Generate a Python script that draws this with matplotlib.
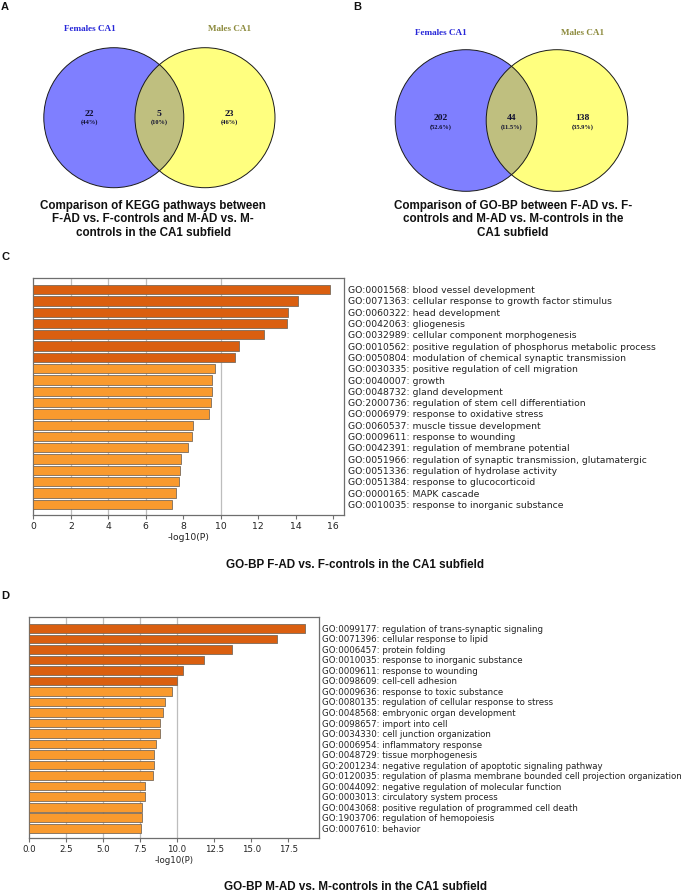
import matplotlib
matplotlib.use("Agg")
import matplotlib.pyplot as plt
from matplotlib.patches import Circle
import numpy as np

# ---------------- data ----------------
kegg_counts = [22, 5, 23]
kegg_pcts = ["(44%)", "(10%)", "(46%)"]
gobp_counts = [202, 44, 138]
gobp_pcts = ["(52.6%)", "(11.5%)", "(35.9%)"]
set_names = ["Females CA1", "Males CA1"]

c_terms = [
    "GO:0001568: blood vessel development",
    "GO:0071363: cellular response to growth factor stimulus",
    "GO:0060322: head development",
    "GO:0042063: gliogenesis",
    "GO:0032989: cellular component morphogenesis",
    "GO:0010562: positive regulation of phosphorus metabolic process",
    "GO:0050804: modulation of chemical synaptic transmission",
    "GO:0030335: positive regulation of cell migration",
    "GO:0040007: growth",
    "GO:0048732: gland development",
    "GO:2000736: regulation of stem cell differentiation",
    "GO:0006979: response to oxidative stress",
    "GO:0060537: muscle tissue development",
    "GO:0009611: response to wounding",
    "GO:0042391: regulation of membrane potential",
    "GO:0051966: regulation of synaptic transmission, glutamatergic",
    "GO:0051336: regulation of hydrolase activity",
    "GO:0051384: response to glucocorticoid",
    "GO:0000165: MAPK cascade",
    "GO:0010035: response to inorganic substance",
]
c_values = [15.82, 14.13, 13.6, 13.56, 12.3, 11.0, 10.76, 9.71, 9.56, 9.55,
            9.49, 9.40, 8.50, 8.48, 8.27, 7.91, 7.84, 7.79, 7.63, 7.40]
c_n_dark = 7

d_terms = [
    "GO:0099177: regulation of trans-synaptic signaling",
    "GO:0071396: cellular response to lipid",
    "GO:0006457: protein folding",
    "GO:0010035: response to inorganic substance",
    "GO:0009611: response to wounding",
    "GO:0098609: cell-cell adhesion",
    "GO:0009636: response to toxic substance",
    "GO:0080135: regulation of cellular response to stress",
    "GO:0048568: embryonic organ development",
    "GO:0098657: import into cell",
    "GO:0034330: cell junction organization",
    "GO:0006954: inflammatory response",
    "GO:0048729: tissue morphogenesis",
    "GO:2001234: negative regulation of apoptotic signaling pathway",
    "GO:0120035: regulation of plasma membrane bounded cell projection organization",
    "GO:0044092: negative regulation of molecular function",
    "GO:0003013: circulatory system process",
    "GO:0043068: positive regulation of programmed cell death",
    "GO:1903706: regulation of hemopoiesis",
    "GO:0007610: behavior",
]
d_values = [18.65, 16.72, 13.69, 11.80, 10.38, 10.02, 9.69, 9.17, 9.03, 8.83,
            8.83, 8.61, 8.47, 8.43, 8.38, 7.87, 7.87, 7.66, 7.64, 7.55]
d_n_dark = 6

c_ticks = [0, 2, 4, 6, 8, 10, 12, 14, 16]
c_ticklabels = ["0", "2", "4", "6", "8", "10", "12", "14", "16"]
c_grid = [2, 4, 6, 10]
d_ticks = [0, 2.5, 5, 7.5, 10, 12.5, 15, 17.5]
d_ticklabels = ["0.0", "2.5", "5.0", "7.5", "10.0", "12.5", "15.0", "17.5"]
d_grid = [2.5, 5, 7.5, 10]

caption_a = ["Comparison of KEGG pathways between",
             "F-AD vs. F-controls and M-AD vs. M-",
             "controls in the CA1 subfield"]
caption_b = ["Comparison of GO-BP between F-AD vs. F-",
             "controls and M-AD vs. M-controls in the",
             "CA1 subfield"]
title_c = "GO-BP F-AD vs. F-controls in the CA1 subfield"
title_d = "GO-BP M-AD vs. M-controls in the CA1 subfield"

# ---------------- figure ----------------
W, H = 686, 896
fig = plt.figure(figsize=(W / 100, H / 100), dpi=100)

DARK = "#DA5F10"
LIGHT = "#F99A2E"
SPINE = "#6E6E6E"

# full-figure overlay in pixel coords for venns & texts
ov = fig.add_axes([0, 0, 1, 1])
ov.set_xlim(0, W)
ov.set_ylim(H, 0)
ov.axis("off")

serif = ["Liberation Serif", "DejaVu Serif"]
sans = ["Liberation Sans", "DejaVu Sans"]
BLUE_T = "#2727D8"
OLIVE_T = "#8C8A3C"


def venn(cx_left, cx_right, cy, r, counts, pcts, name_y, num_y):
    ov.add_patch(Circle((cx_left, cy), r, facecolor=(0, 0, 1, 0.5), edgecolor="none", zorder=1))
    ov.add_patch(Circle((cx_right, cy), r, facecolor=(1, 1, 0, 0.5), edgecolor="none", zorder=2))
    for cx in (cx_left, cx_right):
        ov.add_patch(Circle((cx, cy), r, facecolor="none", edgecolor="#1a1a1a", lw=0.7, zorder=3))
    d = cx_right - cx_left
    xl = cx_left - r + (r * 2 - d) / 2 * 0 + (d - (r - d / 2)) * 0
    # region centres
    x_left = (cx_left - r + (cx_right - r)) / 2
    x_mid = (cx_right - r + cx_left + r) / 2
    x_right = (cx_left + r + cx_right + r) / 2
    xs = [x_left, x_mid, x_right]
    for x, c, p in zip(xs, counts, pcts):
        ov.text(x, num_y, str(c), ha="center", va="center", fontsize=6.8,
                fontweight="bold", family=serif, color="#101030", zorder=4)
        ov.text(x, num_y + 8.5, p, ha="center", va="center", fontsize=4.6,
                fontweight="bold", family=serif, color="#101030", zorder=4)
    ov.text(x_left, name_y, set_names[0], ha="center", va="center", fontsize=6.6,
            fontweight="bold", family=serif, color=BLUE_T)
    ov.text(x_right, name_y, set_names[1], ha="center", va="center", fontsize=6.6,
            fontweight="bold", family=serif, color=OLIVE_T)


venn(113.8, 205.0, 117.7, 70.0, kegg_counts, kegg_pcts, 29.0, 113.5)
venn(466.0, 557.0, 120.5, 70.8, gobp_counts, gobp_pcts, 33.3, 118.3)

for i, line in enumerate(caption_a):
    ov.text(153, 205.7 + i * 13.5, line, ha="center", va="center", fontsize=8.4,
            fontweight="bold", family=sans, color="#111111")
for i, line in enumerate(caption_b):
    ov.text(513, 205.7 + i * 13.5, line, ha="center", va="center", fontsize=8.4,
            fontweight="bold", family=sans, color="#111111")

ov.text(355, 565, title_c, ha="center", va="center", fontsize=8.4,
        fontweight="bold", family=sans, color="#111111")
ov.text(355, 887.5, title_d, ha="center", va="center", fontsize=8.4,
        fontweight="bold", family=sans, color="#111111")

for lab, x, y in [("A", 5, 7), ("B", 357, 7), ("C", 5, 257), ("D", 5, 596)]:
    ov.text(x, y, lab, ha="center", va="center", fontsize=8, fontweight="bold",
            family=sans, color="#111111")


def barpanel(rect, terms, values, n_dark, xlim, ylim, ticks, ticklabels, grid, fs, pad):
    ax = fig.add_axes(rect)
    y = np.arange(len(values))
    colors = [DARK if i < n_dark else LIGHT for i in range(len(values))]
    ax.barh(y, values, height=0.82, color=colors, edgecolor="#7a6a5a", linewidth=0.6, zorder=3)
    for g in grid:
        ax.axvline(g, color="#BDBDBD", lw=0.9, zorder=1)
    ax.set_xlim(*xlim)
    ax.set_ylim(*ylim)
    ax.set_xticks(ticks)
    ax.set_xticklabels(ticklabels)
    ax.set_yticks(y)
    ax.set_yticklabels(terms)
    ax.yaxis.tick_right()
    ax.tick_params(axis="y", length=0, pad=pad, labelsize=fs, labelcolor="#222222")
    ax.tick_params(axis="x", length=3, width=0.8, color=SPINE, labelsize=fs, pad=2,
                   labelcolor="#222222")
    ax.set_xlabel("-log10(P)", fontsize=fs, color="#222222", labelpad=1.5)
    for s in ax.spines.values():
        s.set_color(SPINE)
        s.set_linewidth(0.9)
    return ax


barpanel([33.3 / W, 1 - 515.3 / H, 311.0 / W, 237.0 / H], c_terms, c_values, c_n_dark,
         (0, 16.6), (19.97, -1.0), c_ticks, c_ticklabels, c_grid, 6.7, 2.9)
barpanel([28.7 / W, 1 - 837.7 / H, 290.3 / W, 220.4 / H], d_terms, d_values, d_n_dark,
         (0, 19.57), (19.9, -1.05), d_ticks, d_ticklabels, d_grid, 6.2, 2.4)

fig.savefig("out.png", dpi=100)
